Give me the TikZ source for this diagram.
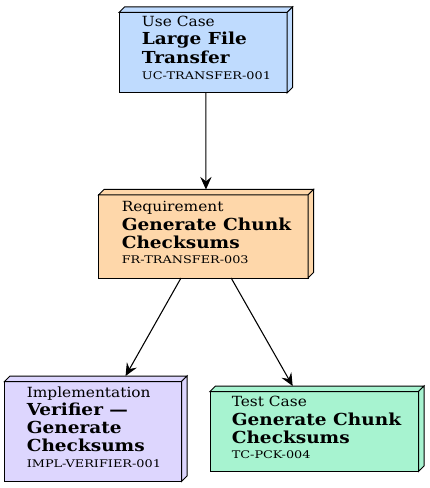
\documentclass[tikz,border=0pt]{standalone}
\usepackage{fontspec}
\setmainfont{DejaVu Serif}
\newfontfamily\kindfont[FakeStretch=1.1]{DejaVu Serif}
\newfontfamily\titlefont[FakeStretch=1.12]{DejaVu Serif}
\newfontfamily\idfont[FakeStretch=1.22]{DejaVu Serif}
\usetikzlibrary{calc,arrows.meta}
\definecolor{ucfill}{HTML}{BFDBFE}
\definecolor{reqfill}{HTML}{FED7AA}
\definecolor{implfill}{HTML}{DDD6FE}
\definecolor{tcfill}{HTML}{A7F3D0}
\newcommand\dd{5.5}
\newcommand\boxfaces[2]{%
  \filldraw[fill=#2,facestyle] ($(#1.north west)+(0,\dd)$) rectangle ($(#1.south east)+(-\dd,0)$);
  \filldraw[fill=#2,facestyle] ($(#1.north west)+(0,\dd)$) -- ($(#1.north west)+(\dd,0)$) -- (#1.north east) -- ($(#1.north east)+(-\dd,\dd)$) -- cycle;
  \filldraw[fill=#2,facestyle] ($(#1.north east)+(-\dd,\dd)$) -- (#1.north east) -- ($(#1.south east)+(0,-\dd)$) -- ($(#1.south east)+(-\dd,0)$) -- cycle;
}
\begin{document}
\begin{tikzpicture}[x=0.75pt,y=-0.75pt,
  boxnode/.style={rectangle,inner sep=0pt,outer sep=0pt,anchor=north west},
  facestyle/.style={draw=black,line width=0.75pt,line join=miter},
  kindtext/.style={anchor=base west,inner sep=0pt,font=\kindfont\fontsize{10.5}{12}\selectfont},
  titletext/.style={anchor=base west,inner sep=0pt,font=\titlefont\bfseries\fontsize{12.4}{14}\selectfont},
  idtext/.style={anchor=base west,inner sep=0pt,font=\idfont\fontsize{7.9}{9}\selectfont},
  link/.style={draw=black,line width=0.8pt,-{Stealth[length=9.5pt,width=8.5pt,inset=3.4pt]}}]
\useasboundingbox (0,0) rectangle (429,488);
% boxes (full extents including depth)
\node[boxnode,minimum width=173.5*0.75pt,minimum height=86*0.75pt] (uc) at (119,7) {};
\node[boxnode,minimum width=215*0.75pt,minimum height=88.5*0.75pt] (req) at (98.5,189.5) {};
\node[boxnode,minimum width=182.5*0.75pt,minimum height=105.5*0.75pt] (impl) at (4.5,376) {};
\node[boxnode,minimum width=214*0.75pt,minimum height=85.5*0.75pt] (tc) at (210,386) {};
\boxfaces{uc}{ucfill}
\boxfaces{req}{reqfill}
\boxfaces{impl}{implfill}
\boxfaces{tc}{tcfill}
% texts
\node[kindtext] (uc1) at (141.7,26.7) {Use Case};
\node[titletext] (uc2) at (141.7,45) {Large File};
\node[titletext] (uc3) at (141.7,63.3) {Transfer};
\node[idtext] (uc4) at (141.7,79.3) {UC-TRANSFER-001};
\node[kindtext] (req1) at (121.5,211.7) {Requirement};
\node[titletext] (req2) at (121.5,230) {Generate Chunk};
\node[titletext] (req3) at (121.5,248.3) {Checksums};
\node[idtext] (req4) at (121.5,263.3) {FR-TRANSFER-003};
\node[kindtext] (impl1) at (26.5,397.3) {Implementation};
\node[titletext] (impl2) at (26.5,415) {Verifier —};
\node[titletext] (impl3) at (26.5,433.3) {Generate};
\node[titletext] (impl4) at (26.5,451.7) {Checksums};
\node[idtext] (impl5) at (26.5,467.3) {IMPL-VERIFIER-001};
\node[kindtext] (tc1) at (231.5,406.7) {Test Case};
\node[titletext] (tc2) at (231.5,425) {Generate Chunk};
\node[titletext] (tc3) at (231.5,443.3) {Checksums};
\node[idtext] (tc4) at (231.5,458.3) {TC-PCK-004};
% connectors
\draw[link] (uc) -- (req);
\draw[link] (req) -- (impl);
\draw[link] (req) -- (tc);
\end{tikzpicture}
\end{document}
